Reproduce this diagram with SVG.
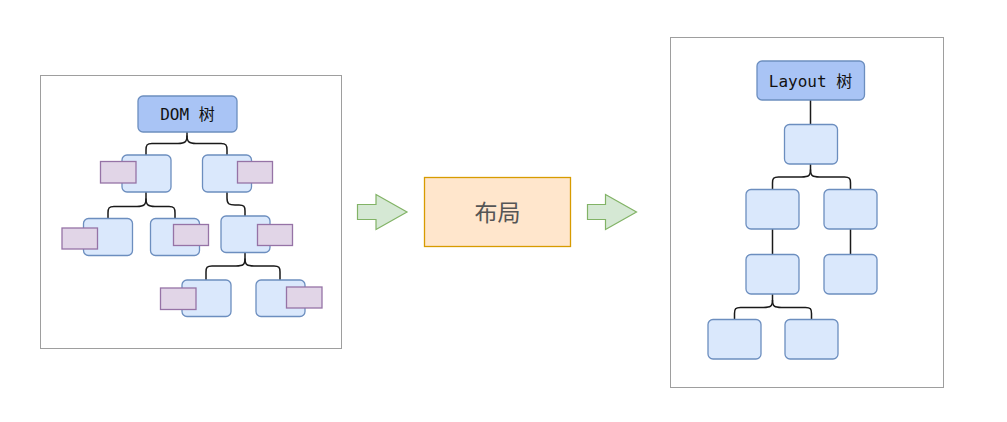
<svg xmlns="http://www.w3.org/2000/svg" width="1007" height="422" viewBox="0 0 1007 422">
<style>
.frame{fill:#ffffff;stroke:#9e9e9e;stroke-width:1}
.n{fill:#dae8fc;stroke:#6c8ebf;stroke-width:1.3}
.root{fill:#a9c4f5;stroke:#6c8ebf;stroke-width:1.3}
.p{fill:#e1d5e7;stroke:#9673a6;stroke-width:1.3}
.arr{fill:#d5e8d4;stroke:#82b366;stroke-width:1.2}
.c{fill:none;stroke:#1a1a1a;stroke-width:1.5}
.mono{font-family:"DejaVu Sans Mono","Liberation Mono","Noto Sans CJK SC",monospace;font-size:16px;fill:#111}
</style>
<rect width="1007" height="422" fill="#ffffff"/>
<g id="frame-left"><rect class="frame" x="40.5" y="75.5" width="301" height="273"/></g>
<g id="frame-right"><rect class="frame" x="670.5" y="37.5" width="273" height="350"/></g>
<g id="connectors">
<path class="c" d="M187,132 V135.5 C187,142 185,143.5 178,143.5 H152 C147,143.5 146,145 146,150 V155"/>
<path class="c" d="M187,135.5 C187,142 189,143.5 196,143.5 H221 C226,143.5 227,145 227,150 V155"/>
<path class="c" d="M146,192 V198.5 C146,205 144,206.5 137,206.5 H114 C109,206.5 108,208 108,213 V218"/>
<path class="c" d="M146,198.5 C146,205 148,206.5 155,206.5 H169 C174,206.5 175,208 175,213 V218"/>
<path class="c" d="M227,192 V198 C227,204 229,205 235,205 H239 C244,205 245,206.5 245,211 V216"/>
<path class="c" d="M245,252 V258.5 C245,265 243,266 236,266 H212 C207,266 206,267.5 206,272 V280"/>
<path class="c" d="M245,258.5 C245,265 247,266 254,266 H274 C279,266 280,267.5 280,272 V280"/>
<path class="c" d="M810.5,100 V124"/>
<path class="c" d="M810.5,164 V169.5 C810.5,176 808.5,177 801.5,177 H778.5 C773.5,177 772.5,178.5 772.5,183 V189"/>
<path class="c" d="M810.5,169.5 C810.5,176 812.5,177 819.5,177 H844.5 C849.5,177 850.5,178.5 850.5,183 V189"/>
<path class="c" d="M772.5,229 V254"/>
<path class="c" d="M850.5,229 V254"/>
<path class="c" d="M772.5,294 V300 C772.5,306.5 770.5,307.5 763.5,307.5 H740.5 C735.5,307.5 734.5,309 734.5,313.5 V319"/>
<path class="c" d="M772.5,300 C772.5,306.5 774.5,307.5 781.5,307.5 H805.5 C810.5,307.5 811.5,309 811.5,313.5 V319"/>
</g>
<g id="dom-root"><rect class="root" x="138" y="96" width="99" height="36" rx="5"/><text class="mono" x="187.5" y="120" text-anchor="middle">DOM 树</text></g>
<g id="dom-1a"><rect class="n" x="122" y="155" width="49" height="37" rx="5"/></g>
<g id="dom-1a-tag"><rect class="p" x="100.5" y="161.5" width="35.5" height="21.5"/></g>
<g id="dom-1b"><rect class="n" x="202.5" y="155" width="49" height="37" rx="5"/></g>
<g id="dom-1b-tag"><rect class="p" x="237.5" y="161.5" width="35" height="21.5"/></g>
<g id="dom-2a"><rect class="n" x="83.5" y="218.5" width="49" height="37" rx="5"/></g>
<g id="dom-2a-tag"><rect class="p" x="62" y="228" width="35.5" height="21"/></g>
<g id="dom-2b"><rect class="n" x="150.5" y="218.5" width="49" height="37" rx="5"/></g>
<g id="dom-2b-tag"><rect class="p" x="173.5" y="224.5" width="35" height="21"/></g>
<g id="dom-2c"><rect class="n" x="221" y="216" width="49" height="36.5" rx="5"/></g>
<g id="dom-2c-tag"><rect class="p" x="257.5" y="224.5" width="35" height="21"/></g>
<g id="dom-3a"><rect class="n" x="182" y="280" width="49" height="36.5" rx="5"/></g>
<g id="dom-3a-tag"><rect class="p" x="160.5" y="288" width="35.5" height="21.5"/></g>
<g id="dom-3b"><rect class="n" x="256" y="280" width="49" height="36.5" rx="5"/></g>
<g id="dom-3b-tag"><rect class="p" x="286.5" y="287" width="35.5" height="21"/></g>
<g id="arrow-1"><polygon class="arr" points="357.5,204.5 376,204.5 376,194.5 407,212 376,229.5 376,219.5 357.5,219.5"/></g>
<g id="layout-box"><rect x="424.5" y="177.5" width="146" height="69" fill="#ffe6cc" stroke="#d79b00" stroke-width="1.3"/><text x="497.5" y="220.5" text-anchor="middle" font-family="Noto Sans CJK SC,sans-serif" font-size="23" fill="#555555">布局</text></g>
<g id="arrow-2"><polygon class="arr" points="587.5,204.5 605.5,204.5 605.5,194.5 636.5,212 605.5,229.5 605.5,219.5 587.5,219.5"/></g>
<g id="layout-root"><rect class="root" x="757" y="61" width="107.5" height="39" rx="5"/><text class="mono" x="810.5" y="86.5" text-anchor="middle">Layout 树</text></g>
<g id="lay-1"><rect class="n" x="784.5" y="124.5" width="53" height="39.5" rx="5"/></g>
<g id="lay-2a"><rect class="n" x="746" y="189.5" width="53" height="39.5" rx="5"/></g>
<g id="lay-2b"><rect class="n" x="824" y="189.5" width="53" height="39.5" rx="5"/></g>
<g id="lay-3a"><rect class="n" x="746" y="254.5" width="53" height="39.5" rx="5"/></g>
<g id="lay-3b"><rect class="n" x="824" y="254.5" width="53" height="39.5" rx="5"/></g>
<g id="lay-4a"><rect class="n" x="708" y="319.5" width="53" height="39.5" rx="5"/></g>
<g id="lay-4b"><rect class="n" x="785" y="319.5" width="53" height="39.5" rx="5"/></g>
</svg>
